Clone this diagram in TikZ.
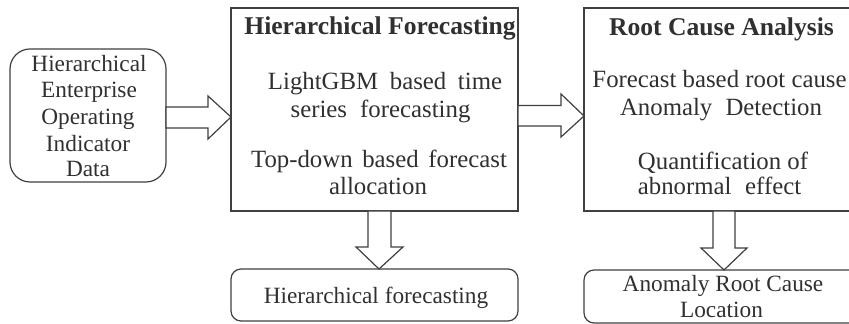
\documentclass[tikz,border=0pt]{standalone}
\usepackage{fontspec}
\setmainfont{Liberation Serif}
\begin{document}
\begin{tikzpicture}[x=0.5pt,y=-0.5pt,
  every node/.style={inner sep=0pt,outer sep=0pt},
  box/.style={draw=linegray,line width=0.6pt,rectangle},
  rbox/.style={box,rounded corners=#1},
  txt/.style={anchor=base,text=textgray,font=\fontsize{11.65}{14}\selectfont},
  btxt/.style={txt,font=\fontsize{12.4}{15}\selectfont},
  ttl/.style={txt,font=\fontsize{12.8}{15}\selectfont\bfseries},
  barrow/.style={draw=linegray,line width=0.6pt,fill=white,line join=miter}]
\definecolor{linegray}{HTML}{404040}
\definecolor{textgray}{HTML}{303030}
\clip (0,0) rectangle (849,324);
\fill[white] (0,0) rectangle (849,324);

% boxes
\node[rbox=10pt,minimum width=78pt,minimum height=66.5pt] (in) at (88,115.5) {};
\node[box,minimum width=143.5pt,minimum height=101.5pt] (hf) at (374.5,109.5) {};
\node[box,minimum width=139pt,minimum height=101.5pt] (rca) at (723,109.5) {};
\node[rbox=5pt,minimum width=143.5pt,minimum height=26pt] (out1) at (374.5,295) {};
\node[rbox=5pt,minimum width=139pt,minimum height=26.5pt] (out2) at (723,296.5) {};

% input box text
\node[txt] (in1) at (89,72) {Hierarchical};
\node[txt] (in2) at (89,98) {Enterprise};
\node[txt] (in3) at (88,125) {Operating};
\node[txt] (in4) at (88,152) {Indicator};
\node[txt] (in5) at (88,177) {Data};

% forecasting box text
\node[ttl] (hft) at (380,35) {Hierarchical Forecasting};
\node[btxt] (hf1) at (385,90) {LightGBM\hspace{0.22em} based\hspace{0.22em} time};
\node[btxt] (hf2) at (380.5,118) {series\hspace{0.28em} forecasting};
\node[btxt] (hf3) at (379,168) {Top-down\hspace{0.14em} based\hspace{0.14em} forecast};
\node[btxt] (hf4) at (378,195) {allocation};

% root cause box text
\node[ttl] (rcat) at (721.5,36) {Root Cause Analysis};
\node[btxt] (rc1) at (719.5,88) {Forecast based root cause};
\node[btxt] (rc2) at (721,116) {Anomaly\hspace{0.28em} Detection};
\node[btxt] (rc3) at (723,170) {Quantification of};
\node[btxt] (rc4) at (719.5,195) {abnormal\hspace{0.3em} effect};

% output box text
\node[txt] (o1) at (376,304) {Hierarchical forecasting};
\node[txt] (o2a) at (723,292) {Anomaly Root Cause};
\node[txt] (o2b) at (721.5,318) {Location};

% block arrows
\draw[barrow] (in.east |- 0,107) -- (208,107) -- (208,96) -- (hf.west |- 0,117)
  -- (208,139) -- (208,128) -- (in.east |- 0,128) -- cycle;
\draw[barrow] (hf.east |- 0,105.5) -- (561,105.5) -- (561,94) -- (rca.west |- 0,116)
  -- (561,137) -- (561,126) -- (hf.east |- 0,126) -- cycle;
\draw[barrow] (368,0 |- hf.south) -- (368,247) -- (356,247) -- (379,0 |- out1.north)
  -- (403,247) -- (391,247) -- (391,0 |- hf.south) -- cycle;
\draw[barrow] (713,0 |- rca.south) -- (713,248) -- (701,248) -- (724,0 |- out2.north)
  -- (747,248) -- (735,248) -- (735,0 |- rca.south) -- cycle;
\end{tikzpicture}
\end{document}
